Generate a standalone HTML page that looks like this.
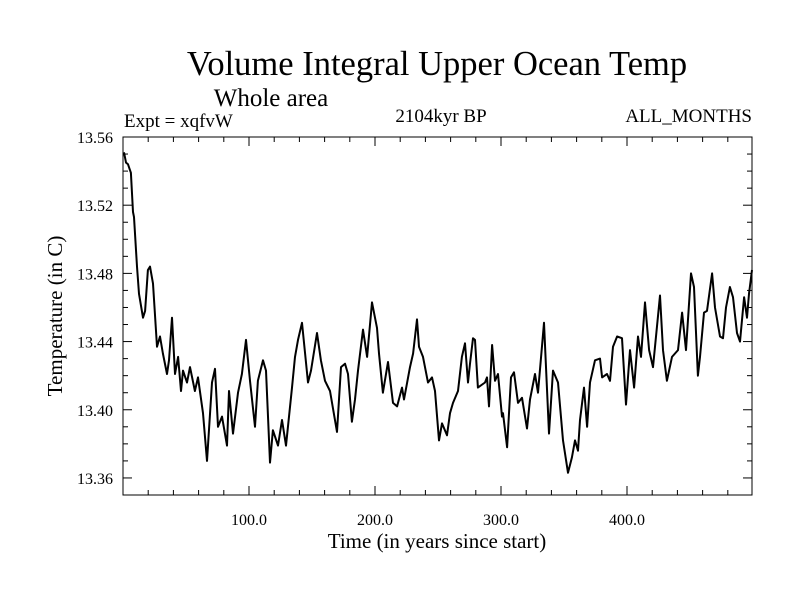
<!DOCTYPE html>
<html><head><meta charset="utf-8"><style>
body{margin:0;background:#fff}
svg{display:block;font-family:"Liberation Serif",serif}
</style></head><body>
<svg id="chart" width="800" height="600" xmlns="http://www.w3.org/2000/svg">
<text x="437" y="75" font-size="34.5" text-anchor="middle">Volume Integral Upper Ocean Temp</text>
<text x="271" y="106" font-size="25" text-anchor="middle">Whole area</text>
<text x="124" y="127" font-size="19">Expt = xqfvW</text>
<text x="441" y="122" font-size="19" text-anchor="middle">2104kyr BP</text>
<text x="752" y="122" font-size="19" text-anchor="end">ALL_MONTHS</text>
<text x="437" y="548" font-size="21" text-anchor="middle">Time (in years since start)</text>
<text transform="translate(62,316) rotate(-90)" font-size="21" text-anchor="middle">Temperature (in C)</text>
<g id="axes"></g>
<rect x="123" y="137" width="629" height="358" fill="none" stroke="#000" stroke-width="1"/>
</svg>
<script>
const years=[0.8,2.4,4,6.3,7.9,8.7,11.1,12.7,15.9,17.5,19.8,21.4,23.8,27,29.4,31.7,34.9,36.5,38.9,41.3,43.7,46,47.6,50.8,53.2,57.1,59.5,63.5,66.7,70.6,73,75.4,78.6,82.5,84.1,87.3,91.3,94.4,97.6,100.8,104.8,107.1,111.1,113.5,116.7,119,123,126.2,129.4,134.1,136.5,138.9,142.1,146.8,149.2,154,157.1,160.3,164.3,169.8,173,176.2,178.6,181.7,184.1,186.5,190.5,193.7,197.6,201.6,203.2,206.3,210.3,214.3,217.5,221.4,223,227.8,230.2,233.3,234.9,238.1,242.1,245.2,247.6,
250.8,253.2,257.1,259.5,261.9,265.9,269,271.4,273.8,275.4,277.8,279.4,281.7,287.3,288.9,290.5,292.9,295.2,297.6,300.8,301.6,304.8,307.9,310.3,313.5,316.7,320.6,323,327,329.4,334.1,338.1,341.3,345.2,349.2,353.2,356.3,358.7,361.1,362.7,365.9,368.3,370.6,374.6,378.6,380.2,384.1,386.5,388.9,392.1,396,399.2,402.4,405.6,408.7,411.1,414.3,417.5,420.6,423,426.2,428.6,431.7,435.7,438.1,440.5,443.7,446.8,450.8,453.2,456.3,457.9,461.1,463.5,467.5,469.8,473.8,476.2,478.6,481.7,484.1,487.3,489.7,492.9,495.2,496.8,499.2];
const temps=[13.551,13.545,13.544,13.539,13.516,13.513,13.484,13.468,13.454,13.458,13.482,13.484,13.474,13.437,13.443,13.433,13.421,13.429,13.454,13.421,13.431,13.411,13.423,13.416,13.425,13.411,13.419,13.398,13.370,13.416,13.424,13.390,13.396,13.379,13.411,13.386,13.410,13.421,13.441,13.417,13.390,13.417,13.429,13.423,13.369,13.388,13.379,13.394,13.379,13.413,13.431,13.441,13.451,13.416,13.423,13.445,13.429,13.417,13.411,13.387,13.425,13.427,13.421,13.393,13.406,13.423,13.447,13.431,13.463,13.448,13.433,13.410,13.428,13.404,13.402,13.413,13.406,13.425,13.433,13.453,13.437,13.431,13.416,13.419,13.411,
13.382,13.392,13.385,13.398,13.404,13.411,13.431,13.439,13.416,13.427,13.442,13.441,13.413,13.416,13.419,13.402,13.438,13.417,13.421,13.396,13.398,13.378,13.419,13.422,13.404,13.407,13.389,13.406,13.421,13.410,13.451,13.386,13.423,13.416,13.382,13.363,13.372,13.382,13.376,13.394,13.413,13.390,13.416,13.429,13.430,13.419,13.421,13.417,13.437,13.443,13.442,13.403,13.435,13.413,13.443,13.431,13.463,13.435,13.425,13.443,13.467,13.435,13.417,13.431,13.433,13.435,13.457,13.435,13.480,13.472,13.420,13.431,13.457,13.458,13.480,13.460,13.443,13.442,13.460,13.472,13.466,13.445,13.440,13.466,13.454,13.468,13.482];
const yTickLabels=["13.36","13.40","13.44","13.48","13.52","13.56"];
const xTickLabels=["100.0","200.0","300.0","400.0"];
const X0=123,X1=752,Y0=495,Y1=137,XMIN=0,XMAX=499.2,YMIN=13.35,YMAX=13.56;
function sx(v){return X0+(v-XMIN)/(XMAX-XMIN)*(X1-X0);}
function sy(v){return Y0-(v-YMIN)/(YMAX-YMIN)*(Y0-Y1);}
const NS="http://www.w3.org/2000/svg";
const g=document.getElementById('axes');
function ln(x1,y1,x2,y2,name){const l=document.createElementNS(NS,'line');
l.setAttribute('x1',x1);l.setAttribute('y1',y1);l.setAttribute('x2',x2);l.setAttribute('y2',y2);
l.setAttribute('stroke','#000');l.setAttribute('stroke-width','1');


g.appendChild(l);}
function tx(x,y,s,anchor,name){const t=document.createElementNS(NS,'text');
t.setAttribute('x',x);t.setAttribute('y',y);t.setAttribute('font-size','16');t.setAttribute('text-anchor',anchor);t.textContent=s;


g.appendChild(t);}
for(let v=13.35;v<=13.5601;v+=0.01){const y=sy(v);const major=Math.abs(Math.round(v*100)%4)===0;const L=major?9:5;
ln(X0,y,X0+L,y,'y-tick');ln(X1,y,X1-L,y,'y-tick');}
yTickLabels.forEach(s=>{tx(113,sy(parseFloat(s))+6,s,'end','y-tick-label');});
for(let v=0;v<=XMAX;v+=20){const x=sx(v);const major=v%100===0;const L=major?9:5;
ln(x,Y0,x,Y0-L,'x-tick');ln(x,Y1,x,Y1+L,'x-tick');}
xTickLabels.forEach(s=>{tx(sx(parseFloat(s)),525,s,'middle','x-tick-label');});
let d='';years.forEach((yr,i)=>{d+=(i?'L':'M')+sx(yr).toFixed(1)+','+sy(temps[i]).toFixed(1);});
const p=document.createElementNS(NS,'path');
p.setAttribute('d',d);p.setAttribute('fill','none');p.setAttribute('stroke','#000');p.setAttribute('stroke-width','2');p.setAttribute('stroke-linejoin','round');


g.appendChild(p);
</script>
</body></html>
